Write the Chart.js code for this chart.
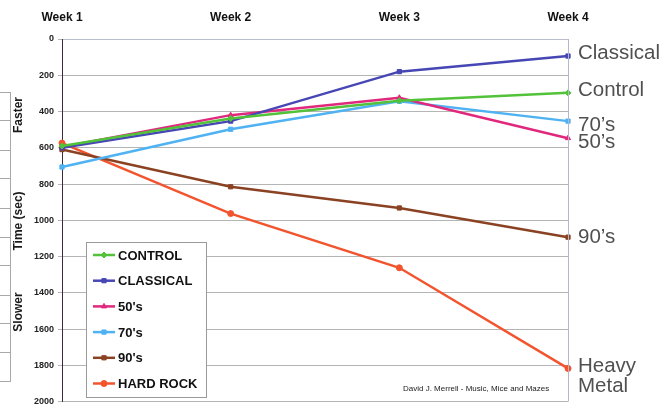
<!DOCTYPE html>
<html>
<head>
<meta charset="utf-8">
<script src="https://cdn.jsdelivr.net/npm/chart.js@4/dist/chart.umd.min.js"></script>
<style>
html,body{margin:0;padding:0;background:#fff;}
canvas{display:block;}
</style>
</head>
<body>
<canvas id="c" width="671" height="411"></canvas>
<script>
// ---- data ----
const weeks = ['Week 1', 'Week 2', 'Week 3', 'Week 4'];
const yTicks = [0, 200, 400, 600, 800, 1000, 1200, 1400, 1600, 1800, 2000];
const seriesNames = ['CONTROL', 'CLASSICAL', "50's", "70's", "90's", 'HARD ROCK'];
const endLabels = ['Control', 'Classical', '50\u2019s', '70\u2019s', '90\u2019s', 'Heavy\nMetal'];
const control   = [590, 438, 340, 297];
const classical = [600, 453, 180, 94];
const fifties   = [595, 420, 324, 547];
const seventies = [706, 498, 344, 453];
const nineties  = [610, 815, 932, 1093];
const hardRock  = [574, 963, 1262, 1817];
const axisTitleParts = ['Faster', 'Time (sec)', 'Slower'];
const credit = 'David J. Merrell - Music, Mice and Mazes';

const colors = ['#52c23a', '#4646b4', '#e0287c', '#4fb2f2', '#8a4222', '#f2542e'];
const pStyles = ['rectRot', 'rect', 'triangle', 'rect', 'rect', 'circle'];
const values = [control, classical, fifties, seventies, nineties, hardRock];

const datasets = values.map((v, i) => ({
  label: seriesNames[i],
  data: v,
  borderColor: colors[i],
  backgroundColor: colors[i],
  pointBackgroundColor: colors[i],
  pointBorderColor: colors[i],
  borderWidth: 2.5,
  pointStyle: pStyles[i],
  pointRadius: 3,
  pointBorderWidth: 1,
  tension: 0,
  clip: false
}));
const FONT = '"Liberation Sans", Arial, Helvetica, sans-serif';

const decor = {
  id: 'decor',
  beforeDraw(chart) {
    const ctx = chart.ctx;
    ctx.save();
    ctx.fillStyle = '#fff';
    ctx.fillRect(0, 0, chart.width, chart.height);
    // faint background table fragment at left edge
    ctx.strokeStyle = '#a8a8a8';
    ctx.lineWidth = 1;
    ctx.beginPath();
    ctx.moveTo(10.5, 92); ctx.lineTo(10.5, 382);
    [92, 120, 150, 178, 208, 237, 265, 295, 323, 352, 381].forEach(y => {
      ctx.moveTo(0, y + 0.5); ctx.lineTo(10.5, y + 0.5);
    });
    ctx.stroke();
    ctx.restore();
  },
  afterDatasetsDraw(chart) {
    const ctx = chart.ctx;
    const a = chart.chartArea;
    const ys = chart.scales.y;
    ctx.save();
    // right border
    ctx.strokeStyle = '#b4b8c8';
    ctx.lineWidth = 1;
    ctx.beginPath();
    ctx.moveTo(Math.round(a.right) + 0.5, a.top);
    ctx.lineTo(Math.round(a.right) + 0.5, a.bottom);
    ctx.stroke();

    // y-axis title parts
    ctx.fillStyle = '#1a1a1a';
    ctx.font = 'bold 12px ' + FONT;
    ctx.textAlign = 'center';
    ctx.textBaseline = 'middle';
    const titleY = [115, 221, 312];
    axisTitleParts.forEach((t, i) => {
      ctx.save();
      ctx.translate(19, titleY[i]);
      ctx.rotate(-Math.PI / 2);
      ctx.fillText(t, 0, 0);
      ctx.restore();
    });

    // end labels
    ctx.font = '20.5px ' + FONT;
    ctx.fillStyle = '#505050';
    ctx.textAlign = 'left';
    const offs = [-3, -3, 4, 4, 0, -2];
    values.forEach((v, i) => {
      const y = ys.getPixelForValue(v[v.length - 1]) + offs[i];
      const lines = endLabels[i].split('\n');
      lines.forEach((ln, k) => ctx.fillText(ln, 578, y + k * 20));
    });

    // legend box
    const bx = 86.5, by = 242.5, bw = 120, bh = 155;
    ctx.fillStyle = '#fff';
    ctx.fillRect(bx, by, bw, bh);
    ctx.strokeStyle = '#9a9a9a';
    ctx.lineWidth = 1;
    ctx.strokeRect(bx, by, bw, bh);
    ctx.font = 'bold 13px ' + FONT;
    ctx.textBaseline = 'middle';
    chart.data.datasets.forEach((ds, i) => {
      const y = 255 + i * 25.7;
      ctx.strokeStyle = ds.borderColor;
      ctx.fillStyle = ds.borderColor;
      ctx.lineWidth = 2.5;
      ctx.beginPath();
      ctx.moveTo(93, y); ctx.lineTo(115, y);
      ctx.stroke();
      ctx.lineWidth = 1;
      Chart.helpers.drawPoint(ctx, {pointStyle: ds.pointStyle, radius: 3, borderWidth: 1, rotation: 0}, 104, y);
      ctx.fillStyle = '#111';
      ctx.fillText(ds.label, 118, y + 1);
    });

    // credit
    ctx.font = '8px ' + FONT;
    ctx.fillStyle = '#222';
    ctx.fillText(credit, 403, 389);
    ctx.restore();
  }
};

new Chart(document.getElementById('c'), {
  type: 'line',
  data: { labels: weeks, datasets: datasets },
  plugins: [decor],
  options: {
    responsive: false,
    animation: false,
    devicePixelRatio: 1,
    layout: { padding: { left: 0, top: 0, right: 103, bottom: 3 } },
    plugins: { legend: { display: false }, tooltip: { enabled: false } },
    scales: {
      x: {
        type: 'category',
        position: 'top',
        offset: false,
        afterFit(s) { s.height = 39; },
        grid: { display: false, drawTicks: false },
        border: { display: true, color: '#b8bccb', width: 1 },
        ticks: {
          padding: 14,
          color: '#111',
          font: { family: FONT, size: 12, weight: 'bold' },
          maxRotation: 0,
          autoSkip: false
        }
      },
      y: {
        reverse: true,
        min: 0,
        max: 2000,
        afterFit(s) { s.width = 62; },
        afterBuildTicks(s) { s.ticks = yTicks.map(v => ({ value: v })); },
        grid: { color: '#b5b5b5', lineWidth: 1, tickLength: 4, drawTicks: true },
        border: { display: true, color: '#3a2c3a', width: 1 },
        ticks: {
          padding: 4,
          color: '#222',
          font: { family: FONT, size: 9, weight: 'bold' },
          callback: v => String(v)
        }
      }
    }
  }
});
</script>
</body>
</html>
